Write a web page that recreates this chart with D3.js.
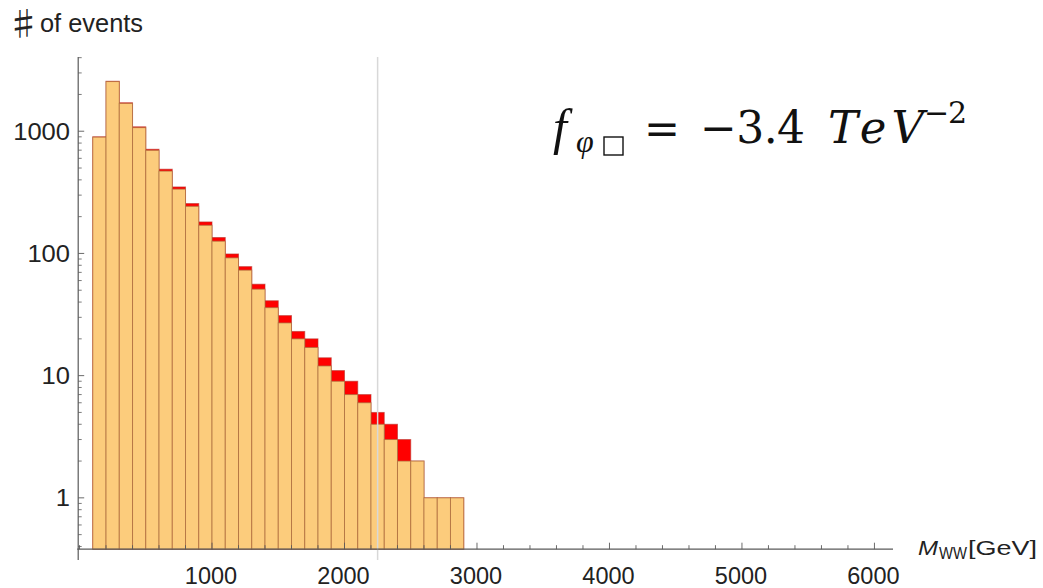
<!DOCTYPE html>
<html>
<head>
<meta charset="utf-8">
<script src="https://cdn.jsdelivr.net/npm/d3@7"></script>
<style>
  body { margin: 0; background: #fff; }
  svg { display: block; }
  text { font-family: "Liberation Sans", Arial, sans-serif; }
  text.tex { font-family: "Liberation Serif", "DejaVu Serif", serif; }
  text.tex2 { font-family: "DejaVu Serif", serif; }
</style>
</head>
<body>
<div id="chart"></div>
<script>
// histogram bins (GeV): lower edge of first bin and common width
const binStart = 100;
const binWidth = 100;
// counts per bin: full histogram (red, behind) and SM-like one (orange, in front)
const redCounts    = [900, 2565, 1710, 1087, 712, 489, 350, 256, 181, 135, 99, 78, 56, 41, 31, 23, 20, 14, 11, 9, 7, 5, 4, 3, 2, 1, 1, 1];
const orangeCounts = [895, 2550, 1690, 1070, 698, 472, 336, 243, 170, 126, 92, 73, 51, 36, 27, 20, 17, 12, 9, 7, 6, 4, 3, 2, 2, 1, 1, 1];
const xMajorTicks = [1000, 2000, 3000, 4000, 5000, 6000];
const yMajorTicks = [1, 10, 100, 1000];
const cutMass = 2250;

const width = 1043, height = 588;

const svg = d3.select('#chart')
    .append('svg')
    .attr('width', width)
    .attr('height', height);

const x = d3.scaleLinear().domain([-10, 6140]).range([78.2, 893]);
const y = d3.scaleLog().domain([0.31, 4050]).range([560, 57]);
const axisY = y(0.38);   // where the horizontal axis crosses
const axisX = x(-10);

// squeeze/stretch a text to a given width (the reference type is a bit wide)
function fit(sel, w, mode) {
    sel.attr('textLength', w).attr('lengthAdjust', mode || 'spacingAndGlyphs');
    return sel;
}

// bins
const bins = redCounts.map((r, i) => ({
    lo: binStart + i * binWidth,
    hi: binStart + (i + 1) * binWidth,
    red: r,
    orange: orangeCounts[i]
}));

// red histogram behind
svg.append('g').selectAll('rect')
    .data(bins)
    .join('rect')
    .attr('x', d => x(d.lo))
    .attr('width', d => x(d.hi) - x(d.lo))
    .attr('y', d => y(d.red))
    .attr('height', d => axisY - y(d.red))
    .attr('fill', '#ff0000')
    .attr('stroke', '#b8322a')
    .attr('stroke-opacity', 0.6)
    .attr('stroke-width', 1);

// orange histogram in front
svg.append('g').selectAll('rect')
    .data(bins)
    .join('rect')
    .attr('x', d => x(d.lo))
    .attr('width', d => x(d.hi) - x(d.lo))
    .attr('y', d => y(d.orange))
    .attr('height', d => axisY - y(d.orange))
    .attr('fill', '#fccc7c')
    .attr('stroke', '#a86a3c')
    .attr('stroke-opacity', 0.7)
    .attr('stroke-width', 1);

// gray vertical marker
svg.append('line')
    .attr('x1', x(cutMass)).attr('x2', x(cutMass))
    .attr('y1', 57).attr('y2', 560)
    .attr('stroke', '#d8d8d8')
    .attr('stroke-width', 1.5);

const axisColor = '#5a5a5a';

// y axis
svg.append('line')
    .attr('x1', axisX).attr('x2', axisX)
    .attr('y1', 57).attr('y2', 560)
    .attr('stroke', axisColor).attr('stroke-width', 1.2);

const yMinor = [];
[0.1, 1, 10, 100, 1000].forEach(dec => {
    for (let k = 2; k <= 9; k++) {
        const v = dec * k;
        if (v > 0.31 && v < 4050) yMinor.push(v);
    }
});
svg.append('g').selectAll('line.ymin')
    .data(yMinor)
    .join('line')
    .attr('x1', axisX).attr('x2', axisX + 3.5)
    .attr('y1', d => y(d)).attr('y2', d => y(d))
    .attr('stroke', axisColor).attr('stroke-width', 0.8);
svg.append('g').selectAll('line.ymaj')
    .data(yMajorTicks)
    .join('line')
    .attr('x1', axisX).attr('x2', axisX + 6)
    .attr('y1', d => y(d)).attr('y2', d => y(d))
    .attr('stroke', axisColor).attr('stroke-width', 0.9);
svg.append('g').selectAll('text')
    .data(yMajorTicks)
    .join('text')
    .attr('x', 70)
    .attr('y', d => y(d) + 8.5)
    .attr('text-anchor', 'end')
    .attr('font-size', 23.5)
    .attr('fill', '#222')
    .attr('textLength', d => String(d).length * 14.2)
    .attr('lengthAdjust', 'spacingAndGlyphs')
    .text(d => d);

// x axis
svg.append('line')
    .attr('x1', axisX - 1).attr('x2', 893)
    .attr('y1', axisY).attr('y2', axisY)
    .attr('stroke', axisColor).attr('stroke-width', 1.2);

const xMinor = d3.range(0, 6001, 200).filter(v => v % 1000 !== 0 || v === 0);
svg.append('g').selectAll('line.xmin')
    .data(xMinor)
    .join('line')
    .attr('x1', d => x(d)).attr('x2', d => x(d))
    .attr('y1', axisY).attr('y2', axisY - 4)
    .attr('stroke', axisColor).attr('stroke-width', 0.9);
svg.append('g').selectAll('line.xmaj')
    .data(xMajorTicks)
    .join('line')
    .attr('x1', d => x(d)).attr('x2', d => x(d))
    .attr('y1', axisY).attr('y2', axisY - 6.5)
    .attr('stroke', axisColor).attr('stroke-width', 0.9);
svg.append('g').selectAll('text')
    .data(xMajorTicks)
    .join('text')
    .attr('x', d => x(d) - 1)
    .attr('y', 584)
    .attr('text-anchor', 'middle')
    .attr('font-size', 23.5)
    .attr('fill', '#222')
    .text(d => d);

// axis titles
svg.append('text')
    .attr('x', 7).attr('y', 36)
    .attr('font-size', 33)
    .attr('fill', '#222')
    .style('font-family', '"Noto Sans CJK JP", "DejaVu Sans", sans-serif')
    .text('♯');
fit(svg.append('text')
    .attr('x', 40).attr('y', 32)
    .attr('font-size', 25)
    .attr('fill', '#222')
    .text('of events'), 103);

fit(svg.append('text').attr('x', 918).attr('y', 555).attr('font-size', 21)
    .attr('font-style', 'italic').attr('fill', '#222').text('M'), 20);
fit(svg.append('text').attr('x', 939).attr('y', 559).attr('font-size', 16)
    .attr('fill', '#222').text('WW'), 28);
fit(svg.append('text').attr('x', 968).attr('y', 555).attr('font-size', 21)
    .attr('fill', '#222').text('[GeV]'), 69);

// formula  f_{φ□} = −3.4 TeV^{−2}
const f = svg.append('g').attr('fill', '#111');
f.append('text').attr('class', 'tex').attr('x', 553).attr('y', 144).attr('font-size', 50)
    .attr('font-style', 'italic').text('f');
f.append('text').attr('class', 'tex').attr('x', 576).attr('y', 152).attr('font-size', 32)
    .attr('font-style', 'italic').text('φ');
f.append('rect').attr('x', 604).attr('y', 137).attr('width', 19).attr('height', 18)
    .attr('fill', 'none').attr('stroke', '#111').attr('stroke-width', 1.4);
fit(f.append('text').attr('class', 'tex2').attr('x', 644).attr('y', 144).attr('font-size', 44)
    .text('='), 36);
fit(f.append('text').attr('class', 'tex2').attr('x', 700).attr('y', 143).attr('font-size', 44)
    .text('−3.4'), 105, 'spacing');
fit(f.append('text').attr('class', 'tex2').attr('x', 828).attr('y', 143).attr('font-size', 45)
    .attr('font-style', 'italic').text('TeV'), 96, 'spacing');
fit(f.append('text').attr('class', 'tex2').attr('x', 924).attr('y', 123).attr('font-size', 30)
    .text('−2'), 43, 'spacing');
</script>
</body>
</html>
